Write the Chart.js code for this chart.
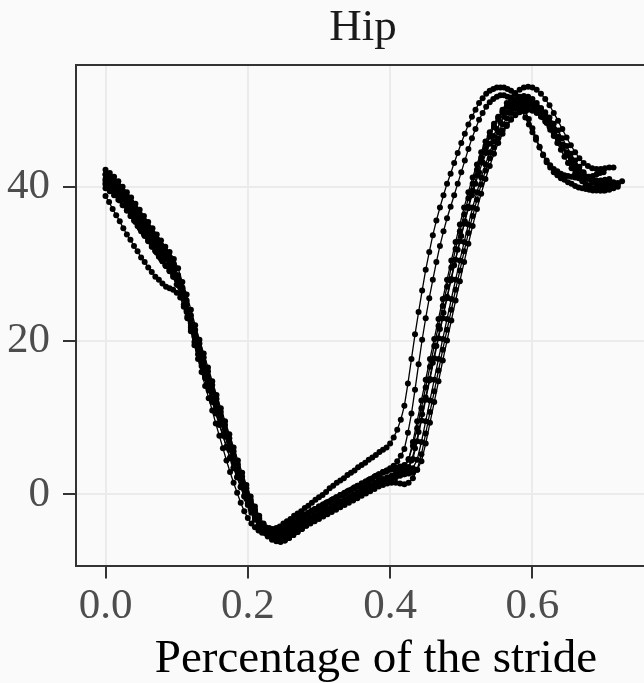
<!DOCTYPE html>
<html>
<head>
<meta charset="utf-8">
<script src="https://cdn.jsdelivr.net/npm/chart.js@4.4.1/dist/chart.umd.min.js"></script>
<style>
  html, body { margin: 0; padding: 0; background: #fafafa; overflow: hidden; }
  #wrap { width: 644px; height: 683px; overflow: hidden; }
</style>
</head>
<body>
<div id="wrap"><canvas id="hipChart" width="728" height="683"></canvas></div>
<script>
const chartTitle = 'Hip';
const xTitle = 'Percentage of the stride';
const xTickValues = [0, 0.2, 0.4, 0.6];
const xTickLabels = ['0.0', '0.2', '0.4', '0.6'];
const yTickValues = [0, 20, 40];
const yTickLabels = ['0', '20', '40'];

// sample positions along the stride (two sampling rates)
const strideXFine = [
  0, 0.005, 0.01, 0.015, 0.02, 0.025, 0.03, 0.035, 0.04, 0.045,
  0.05, 0.055, 0.06, 0.065, 0.07, 0.075, 0.08, 0.085, 0.09, 0.095,
  0.1, 0.105, 0.11, 0.115, 0.12, 0.125, 0.13, 0.135, 0.14, 0.145,
  0.15, 0.155, 0.16, 0.165, 0.17, 0.175, 0.18, 0.185, 0.19, 0.195,
  0.2, 0.205, 0.21, 0.215, 0.22, 0.225, 0.23, 0.235, 0.24, 0.245,
  0.25, 0.255, 0.26, 0.265, 0.27, 0.275, 0.28, 0.285, 0.29, 0.295,
  0.3, 0.305, 0.31, 0.315, 0.32, 0.325, 0.33, 0.335, 0.34, 0.345,
  0.35, 0.355, 0.36, 0.365, 0.37, 0.375, 0.38, 0.385, 0.39, 0.395,
  0.4, 0.405, 0.41, 0.415, 0.42, 0.425, 0.43, 0.435, 0.44, 0.445,
  0.45, 0.455, 0.46, 0.465, 0.47, 0.475, 0.48, 0.485, 0.49, 0.495,
  0.5, 0.505, 0.51, 0.515, 0.52, 0.525, 0.53, 0.535, 0.54, 0.545,
  0.55, 0.555, 0.56, 0.565, 0.57, 0.575, 0.58, 0.585, 0.59, 0.595,
  0.6, 0.605, 0.61, 0.615, 0.62, 0.625, 0.63, 0.635, 0.64, 0.645,
  0.65, 0.655, 0.66, 0.665, 0.67, 0.675, 0.68, 0.685, 0.69, 0.695,
  0.7
];
const strideX = [
  0, 0.006, 0.012, 0.018, 0.024, 0.03, 0.036, 0.042, 0.048, 0.054,
  0.06, 0.066, 0.072, 0.078, 0.084, 0.09, 0.096, 0.102, 0.108, 0.114,
  0.12, 0.126, 0.132, 0.138, 0.144, 0.15, 0.156, 0.162, 0.168, 0.174,
  0.18, 0.186, 0.192, 0.198, 0.204, 0.21, 0.216, 0.222, 0.228, 0.234,
  0.24, 0.246, 0.252, 0.258, 0.264, 0.27, 0.276, 0.282, 0.288, 0.294,
  0.3, 0.306, 0.312, 0.318, 0.324, 0.33, 0.336, 0.342, 0.348, 0.354,
  0.36, 0.366, 0.372, 0.378, 0.384, 0.39, 0.396, 0.402, 0.408, 0.414,
  0.42, 0.426, 0.432, 0.438, 0.444, 0.45, 0.456, 0.462, 0.468, 0.474,
  0.48, 0.486, 0.492, 0.498, 0.504, 0.51, 0.516, 0.522, 0.528, 0.534,
  0.54, 0.546, 0.552, 0.558, 0.564, 0.57, 0.576, 0.582, 0.588, 0.594,
  0.6, 0.606, 0.612, 0.618, 0.624, 0.63, 0.636, 0.642, 0.648, 0.654,
  0.66, 0.666, 0.672, 0.678, 0.684, 0.69, 0.696, 0.702, 0.708, 0.714,
  0.72, 0.726
];

// hip angle per stride (degrees), fine sampling
const strideA = [
  41.6, 41.1, 40.5, 39.9, 39.2, 38.5, 37.7, 37.0, 36.2, 35.5,
  34.7, 34.0, 33.2, 32.5, 31.7, 31.0, 30.3, 29.7, 29.0, 28.3,
  27.3, 26.1, 24.7, 23.1, 21.4, 19.8, 18.2, 16.7, 15.1, 13.5,
  12.0, 10.5, 9.0, 7.6, 6.1, 4.7, 3.4, 2.2, 1.0, -0.2,
  -1.2, -2.1, -2.9, -3.5, -3.9, -4.3, -4.4, -4.5, -4.4, -4.2,
  -3.8, -3.5, -3.2, -2.8, -2.5, -2.2, -1.8, -1.5, -1.1, -0.7,
  -0.4, -0.1, 0.3, 0.8, 1.1, 1.5, 1.8, 2.1, 2.5, 2.8,
  3.1, 3.5, 3.8, 4.1, 4.5, 4.8, 5.1, 5.5, 5.8, 6.1,
  6.6, 7.4, 8.4, 9.7, 11.5, 14.4, 17.6, 20.8, 23.7, 26.5,
  29.2, 31.5, 33.7, 35.6, 37.3, 38.9, 40.4, 41.7, 43.1, 44.4,
  45.7, 46.9, 48.1, 49.1, 50.0, 50.9, 51.5, 52.1, 52.5, 52.7,
  52.9, 52.9, 52.9, 52.7, 52.5, 52.1, 51.5, 50.7, 49.8, 48.8,
  47.6, 46.4, 45.2, 44.1, 43.2, 42.5, 41.9, 41.5, 41.1, 40.9,
  40.6, 40.4, 40.1, 39.9, 39.8, 39.7, 39.6, 39.5, 39.5, 39.6,
  39.7
];
const strideB = [
  40.3, 39.9, 39.4, 38.9, 38.2, 37.6, 36.9, 36.2, 35.6, 34.9,
  34.2, 33.6, 32.9, 32.2, 31.6, 30.9, 30.3, 29.7, 29.2, 28.6,
  27.9, 26.9, 25.6, 24.0, 22.2, 20.5, 18.8, 17.1, 15.4, 13.8,
  12.2, 10.7, 9.2, 7.7, 6.2, 4.8, 3.5, 2.2, 0.9, -0.3,
  -1.4, -2.4, -3.3, -4.0, -4.6, -5.0, -5.2, -5.3, -5.2, -5.0,
  -4.6, -4.3, -4.0, -3.6, -3.3, -3.0, -2.7, -2.5, -2.2, -2.0,
  -1.7, -1.5, -1.2, -1.0, -0.7, -0.5, -0.2, 0.0, 0.3, 0.5,
  0.8, 1.0, 1.3, 1.5, 1.8, 2.0, 2.3, 2.5, 2.8, 3.0,
  3.4, 3.7, 4.3, 5.0, 5.9, 8.0, 10.5, 13.6, 16.9, 20.1,
  22.9, 25.5, 27.9, 30.2, 32.3, 34.2, 35.9, 37.4, 38.9, 40.4,
  41.9, 43.4, 44.9, 46.3, 47.5, 48.7, 49.6, 50.4, 51.0, 51.4,
  51.7, 51.9, 51.9, 51.7, 51.5, 51.1, 50.5, 49.9, 49.0, 48.1,
  47.1, 46.1, 45.1, 44.2, 43.4, 42.8, 42.3, 42.0, 41.7, 41.5,
  41.4, 41.3, 41.2, 41.2, 41.2, 41.2, 41.3, 41.4, 41.6, 41.8,
  41.9
];
const strideC = [
  38.8, 38.0, 37.1, 36.3, 35.5, 34.6, 33.8, 33.1, 32.3, 31.6,
  30.8, 30.2, 29.5, 28.9, 28.3, 27.9, 27.4, 27.0, 26.8, 26.6,
  26.2, 25.6, 24.4, 22.9, 21.2, 19.4, 17.6, 15.9, 14.1, 12.5,
  10.9, 9.2, 7.6, 6.0, 4.4, 2.9, 1.5, 0.2, -1.1, -2.2,
  -3.1, -3.8, -4.3, -4.7, -5.0, -5.1, -5.2, -5.2, -5.0, -4.8,
  -4.4, -4.1, -3.8, -3.4, -3.1, -2.9, -2.6, -2.4, -2.1, -1.9,
  -1.6, -1.4, -1.1, -0.9, -0.6, -0.4, -0.1, 0.1, 0.4, 0.6,
  0.9, 1.1, 1.4, 1.6, 1.9, 2.1, 2.4, 2.6, 2.9, 3.1,
  3.2, 3.2, 3.3, 3.3, 3.3, 3.5, 4.4, 6.0, 8.1, 10.4,
  12.6, 14.8, 17.1, 19.3, 21.5, 23.6, 25.7, 27.8, 29.8, 31.8,
  33.6, 35.5, 37.2, 38.9, 40.4, 41.9, 43.2, 44.4, 45.6, 46.6,
  47.5, 48.4, 49.1, 49.7, 50.2, 50.5, 50.8, 51.0, 51.0, 50.8,
  50.6, 50.2, 49.6, 49.0, 48.3, 47.4, 46.6, 45.7, 44.8, 43.9,
  43.1, 42.4, 41.7, 41.1, 40.7, 40.3, 40.0, 39.8, 39.6, 39.5,
  39.5
];

// hip angle per stride (degrees), coarser sampling
const strideD = [
  42.2, 41.8, 41.3, 40.7, 40.0, 39.3, 38.6, 37.8, 37.0, 36.2,
  35.4, 34.6, 33.8, 33.0, 32.2, 31.5, 30.6, 29.4, 27.6, 26.0,
  24.0, 22.0, 20.1, 18.3, 16.5, 14.7, 12.9, 11.2, 9.5, 7.8,
  6.1, 4.4, 2.8, 1.2, -0.3, -1.6, -2.8, -3.8, -4.6, -5.2,
  -5.6, -5.8, -5.7, -5.4, -5.0, -4.6, -4.1, -3.7, -3.3, -2.9,
  -2.5, -2.2, -1.9, -1.6, -1.3, -1.0, -0.7, -0.4, -0.1, 0.2,
  0.5, 0.8, 1.1, 1.4, 1.7, 1.9, 2.1, 2.3, 2.5, 2.7,
  3.0, 3.5, 4.6, 6.9, 9.6, 12.3, 15.0, 17.7, 20.3, 22.9,
  25.5, 28.0, 30.5, 32.9, 35.2, 37.4, 39.5, 41.5, 43.3, 45.0,
  46.5, 47.8, 49.0, 50.0, 50.9, 51.6, 52.2, 52.6, 52.9, 53.0,
  52.9, 52.6, 52.1, 51.4, 50.6, 49.6, 48.6, 47.5, 46.4, 45.4,
  44.5, 43.7, 43.1, 42.7, 42.4, 42.3, 42.3, 42.4, 42.5, 42.5
];
const strideE = [
  40.5, 40.1, 39.6, 39.0, 38.3, 37.6, 36.9, 36.1, 35.3, 34.5,
  33.7, 32.9, 32.1, 31.3, 30.5, 29.8, 28.9, 27.6, 26.0, 23.9,
  21.9, 20.0, 18.2, 16.4, 14.6, 12.8, 11.1, 9.4, 7.7, 6.0,
  4.3, 2.7, 1.1, -0.4, -1.7, -2.9, -3.9, -4.7, -5.3, -5.7,
  -5.9, -5.9, -5.7, -5.3, -4.9, -4.5, -4.1, -3.7, -3.4, -3.1,
  -2.8, -2.5, -2.2, -1.9, -1.6, -1.3, -1.0, -0.7, -0.4, -0.1,
  0.2, 0.5, 0.8, 1.1, 1.4, 1.6, 1.8, 2.0, 2.2, 2.4,
  2.6, 2.8, 3.4, 4.5, 6.8, 9.5, 12.2, 14.9, 17.6, 20.2,
  22.8, 25.4, 27.9, 30.4, 32.8, 35.1, 37.3, 39.3, 41.2, 42.9,
  44.5, 45.9, 47.1, 48.1, 48.9, 49.6, 50.1, 50.5, 50.7, 50.8,
  50.7, 50.4, 49.9, 49.2, 48.4, 47.5, 46.5, 45.5, 44.5, 43.6,
  42.8, 42.1, 41.5, 41.0, 40.6, 40.3, 40.1, 40.0, 40.0, 40.1,
  40.3
];
const strideF = [
  39.8, 39.4, 38.9, 38.3, 37.6, 36.9, 36.2, 35.4, 34.6, 33.8,
  33.0, 32.2, 31.4, 30.6, 29.8, 29.1, 28.3, 27.2, 25.8, 23.7,
  21.7, 19.8, 18.0, 16.2, 14.4, 12.6, 10.9, 9.2, 7.5, 5.8,
  4.1, 2.5, 0.9, -0.6, -1.9, -3.1, -4.1, -4.9, -5.5, -5.9,
  -6.1, -6.2, -6.0, -5.7, -5.3, -4.9, -4.5, -4.1, -3.8, -3.5,
  -3.2, -2.9, -2.6, -2.3, -2.0, -1.7, -1.4, -1.1, -0.8, -0.5,
  -0.2, 0.1, 0.4, 0.7, 1.0, 1.2, 1.4, 1.5, 1.5, 1.4,
  1.3, 1.5, 2.1, 3.2, 5.2, 7.9, 10.7, 13.4, 16.1, 18.8,
  21.4, 24.0, 26.6, 29.1, 31.6, 34.0, 36.2, 38.3, 40.3, 42.1,
  43.7, 45.1, 46.3, 47.3, 48.1, 48.8, 49.3, 49.7, 49.9, 50.0,
  49.9, 49.6, 49.1, 48.5, 47.8, 47.0, 46.1, 45.1, 44.1, 43.1,
  42.2, 41.4, 40.7, 40.2, 39.8, 39.6, 39.5, 39.5, 39.6, 39.8,
  40.0
];
const strideG = [
  41.6, 41.2, 40.7, 40.1, 39.4, 38.7, 38.0, 37.2, 36.4, 35.6,
  34.8, 34.0, 33.2, 32.4, 31.6, 30.9, 30.0, 28.5, 26.8, 24.7,
  22.7, 20.8, 19.0, 17.2, 15.4, 13.6, 11.9, 10.2, 8.5, 6.8,
  5.1, 3.5, 1.9, 0.4, -0.9, -2.1, -3.1, -3.9, -4.5, -4.9,
  -5.1, -5.1, -4.8, -4.4, -4.0, -3.5, -3.1, -2.7, -2.3, -1.9,
  -1.6, -1.3, -1.0, -0.7, -0.4, -0.1, 0.2, 0.5, 0.8, 1.1,
  1.4, 1.7, 2.0, 2.3, 2.6, 2.9, 3.1, 3.3, 3.5, 3.6,
  3.8, 4.6, 6.3, 8.6, 11.2, 13.9, 16.6, 19.3, 21.9, 24.5,
  27.0, 29.5, 31.9, 34.2, 36.4, 38.5, 40.4, 42.2, 43.8, 45.3,
  46.6, 47.8, 48.8, 49.7, 50.4, 51.0, 51.4, 51.7, 51.8, 51.7,
  51.4, 50.9, 50.2, 49.4, 48.5, 47.5, 46.4, 45.3, 44.2, 43.3,
  42.5, 41.9, 41.4, 41.1, 40.9, 40.8, 40.8, 40.9, 41.0
];
const strideH = [
  40.8, 40.4, 39.9, 39.3, 38.6, 37.9, 37.2, 36.4, 35.6, 34.8,
  34.0, 33.2, 32.4, 31.6, 30.8, 30.1, 29.2, 27.9, 26.9, 25.2,
  23.3, 21.4, 19.6, 17.8, 16.0, 14.2, 12.4, 10.7, 9.0, 7.3,
  5.6, 3.9, 2.3, 0.8, -0.7, -2.0, -3.2, -4.2, -5.0, -5.6,
  -6.0, -6.1, -6.0, -5.7, -5.3, -4.9, -4.5, -4.1, -3.7, -3.3,
  -3.0, -2.7, -2.4, -2.1, -1.8, -1.5, -1.2, -0.9, -0.6, -0.3,
  0.0, 0.3, 0.6, 0.9, 1.2, 1.5, 1.8, 2.1, 2.3, 2.5,
  2.6, 2.7, 2.8, 3.2, 4.3, 6.6, 9.3, 12.0, 14.7, 17.4,
  20.0, 22.6, 25.2, 27.7, 30.2, 32.6, 34.9, 37.1, 39.1, 41.0,
  42.7, 44.3, 45.7, 46.9, 47.9, 48.7, 49.4, 49.9, 50.3, 50.5,
  50.6, 50.5, 50.2, 49.7, 49.0, 48.2, 47.3, 46.3, 45.3, 44.3,
  43.4, 42.6, 41.9, 41.3, 40.8, 40.5, 40.3, 40.2, 40.2, 40.3,
  40.5, 40.7
];
const strideM = [
  41.0, 40.6, 40.1, 39.5, 38.8, 38.1, 37.4, 36.6, 35.8, 35.0,
  34.2, 33.4, 32.6, 31.8, 31.0, 30.3, 29.4, 28.0, 26.3, 24.2,
  22.2, 20.3, 18.5, 16.7, 14.9, 13.1, 11.4, 9.7, 8.0, 6.3,
  4.6, 3.0, 1.4, -0.1, -1.4, -2.6, -3.6, -4.4, -5.0, -5.4,
  -5.6, -5.6, -5.3, -4.9, -4.5, -4.1, -3.7, -3.3, -3.0, -2.7,
  -2.4, -2.1, -1.8, -1.5, -1.2, -0.9, -0.6, -0.3, 0.0, 0.3,
  0.6, 0.9, 1.2, 1.5, 1.8, 2.0, 2.2, 2.4, 2.6, 2.9,
  3.4, 4.5, 6.8, 9.5, 12.2, 14.9, 17.6, 20.2, 22.8, 25.4,
  27.9, 30.4, 32.8, 35.1, 37.3, 39.3, 41.2, 42.9, 44.5, 45.9,
  47.1, 48.2, 49.1, 49.8, 50.4, 50.8, 51.1, 51.3, 51.3, 51.2,
  50.9, 50.4, 49.7, 48.9, 48.0, 47.1, 46.1, 45.1, 44.2, 43.4,
  42.7, 42.1, 41.6, 41.2, 40.9, 40.7, 40.6, 40.5, 40.5, 40.6
];

const fineStrides = [strideA, strideB, strideC];
const coarseStrides = [strideD, strideE, strideF, strideG, strideH, strideM];

const serif = "'Liberation Serif', 'Times New Roman', serif";

function strideDataset(ys, xs) {
    return {
        data: ys.map((y, i) => ({ x: xs[i], y: y })),
        borderColor: '#000000',
        borderWidth: 1.3,
        pointRadius: 3.0,
        pointBackgroundColor: '#000000',
        pointBorderWidth: 0,
        tension: 0
    };
}

const datasets = [
    ...coarseStrides.map(ys => strideDataset(ys, strideX)),
    ...fineStrides.map(ys => strideDataset(ys, strideXFine))
];

const ctx = document.getElementById('hipChart').getContext('2d');
new Chart(ctx, {
    type: 'line',
    data: { datasets: datasets },
    options: {
        responsive: false,
        animation: false,
        devicePixelRatio: 1,
        layout: { padding: { left: 6, right: 8, top: 0, bottom: 0 } },
        plugins: {
            legend: { display: false },
            tooltip: { enabled: false },
            title: {
                display: true,
                text: chartTitle,
                color: '#1a1a1a',
                font: { family: serif, size: 45, weight: 'normal', lineHeight: 1.1 },
                padding: { top: 3, bottom: 12 }
            }
        },
        scales: {
            x: {
                type: 'linear',
                min: -0.0415,
                max: 0.8018,
                afterBuildTicks: axis => { axis.ticks = xTickValues.map(v => ({ value: v })); },
                ticks: {
                    callback: (v, i) => xTickLabels[i],
                    color: '#4d4d4d',
                    font: { family: serif, size: 43 },
                    padding: 3,
                    maxRotation: 0
                },
                grid: { color: '#ebebeb', lineWidth: 2, tickColor: '#333333', tickLength: 12, tickWidth: 2 },
                border: { display: true, color: '#333333', width: 2 },
                title: {
                    display: true,
                    text: xTitle,
                    color: '#000000',
                    font: { family: serif, size: 47, lineHeight: 1.0 },
                    padding: { top: 0, bottom: 0 }
                }
            },
            xTop: {
                type: 'linear',
                position: 'top',
                min: 0,
                max: 1,
                ticks: { display: false },
                grid: { display: false, drawTicks: false },
                border: { display: true, color: '#333333', width: 2 }
            },
            y: {
                type: 'linear',
                min: -9.38,
                max: 55.9,
                afterBuildTicks: axis => { axis.ticks = yTickValues.map(v => ({ value: v })); },
                afterFit: axis => { axis.width = 70; },
                ticks: {
                    callback: (v, i) => yTickLabels[i],
                    color: '#4d4d4d',
                    font: { family: serif, size: 43 },
                    padding: 13
                },
                grid: { color: '#ebebeb', lineWidth: 2, tickColor: '#333333', tickLength: 13, tickWidth: 2 },
                border: { display: true, color: '#333333', width: 2 }
            },
            // empty right-hand space (the panel runs past the crop on the right)
            yRight: {
                type: 'linear',
                position: 'right',
                min: 0,
                max: 1,
                afterFit: axis => { axis.width = 44; },
                ticks: { display: false },
                grid: { display: false, drawTicks: false },
                border: { display: false }
            }
        }
    }
});
</script>
</body>
</html>
